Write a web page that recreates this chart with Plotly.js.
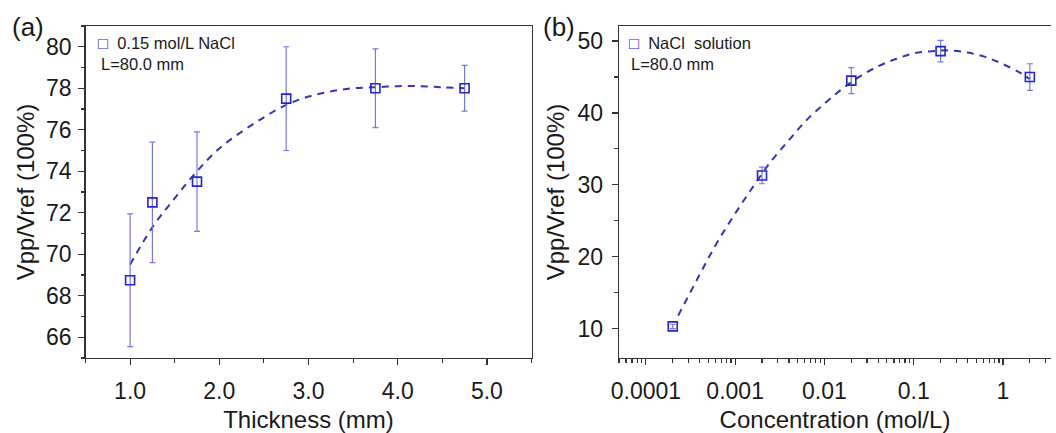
<!DOCTYPE html>
<html>
<head>
<meta charset="utf-8">
<script src="https://cdn.plot.ly/plotly-3.0.1.min.js"></script>
<style>html,body{margin:0;padding:0;background:#fff;overflow:hidden}#chart{width:1056px;height:433px}</style>
</head>
<body>
<div id="chart"></div>
<script>
// ---- Panel (a): Vpp/Vref vs thickness ----
const thickness = [1.0, 1.25, 1.75, 2.75, 3.75, 4.75];
const vppThickness = [68.75, 72.5, 73.5, 77.5, 78.0, 78.0];
const errThickness = [3.2, 2.9, 2.4, 2.5, 1.9, 1.1];
const fitThicknessX = [1.0, 1.25, 1.5, 1.75, 2.0, 2.25, 2.5, 2.75, 3.0, 3.25, 3.5, 3.75, 4.0, 4.25, 4.5, 4.75];
const fitThicknessY = [69.5, 71.3, 72.7, 74.0, 75.1, 75.9, 76.6, 77.2, 77.6, 77.85, 78.0, 78.05, 78.1, 78.1, 78.05, 78.0];

// ---- Panel (b): Vpp/Vref vs concentration ----
const concentration = [0.0002, 0.002, 0.02, 0.2, 2];
const vppConc = [10.3, 31.3, 44.5, 48.6, 45.0];
const errConc = [0.3, 1.15, 1.8, 1.5, 1.85];
const fitConcX = [0.00023, 0.0004, 0.00063, 0.001, 0.0016, 0.0025, 0.004, 0.0063, 0.01, 0.016, 0.025, 0.04, 0.063, 0.1, 0.16, 0.25, 0.4, 0.63, 1, 1.6, 2];
const fitConcY = [11.8, 17.5, 22.0, 26.0, 29.8, 33.2, 36.2, 39.0, 41.3, 43.4, 45.1, 46.5, 47.5, 48.3, 48.6, 48.7, 48.4, 47.8, 46.8, 45.5, 44.7];

const concTickVals = [0.0001, 0.001, 0.01, 0.1, 1];
const concTickText = ['0.0001', '0.001', '0.01', '0.1', '1'];

// minor log ticks (2..9 in each decade)
const concMinor = [];
for (let e = -5; e <= 0; e++) {
  for (let m = 2; m <= 9; m++) concMinor.push(m * Math.pow(10, e));
}

const W = 1056, H = 433, T = 26, B = 75;
const px = x => x / W;
const py = y => (H - B - y) / (H - T - B);

const markerColor = '#2323d8';
const errColor = '#7878e8';
const fitColor = '#3434b4';
const textColor = '#1a1a1a';
const lineColor = '#333333';
const FONT = 'Liberation Sans, Arial, sans-serif';

const traces = [
  {
    x: fitThicknessX, y: fitThicknessY, xaxis: 'x', yaxis: 'y',
    mode: 'lines', line: {color: fitColor, width: 2, dash: '7px,6px', shape: 'spline'},
    showlegend: false, hoverinfo: 'skip'
  },
  {
    x: thickness, y: vppThickness, xaxis: 'x', yaxis: 'y',
    mode: 'markers', type: 'scatter',
    marker: {symbol: 'square-open', size: 9, color: markerColor, line: {width: 1.6, color: markerColor}},
    error_y: {type: 'data', array: errThickness, visible: true, color: errColor, thickness: 1.2, width: 3},
    showlegend: false
  },
  {
    x: fitConcX, y: fitConcY, xaxis: 'x2', yaxis: 'y2',
    mode: 'lines', line: {color: fitColor, width: 2, dash: '7px,6px', shape: 'spline'},
    showlegend: false, hoverinfo: 'skip'
  },
  {
    x: concentration, y: vppConc, xaxis: 'x2', yaxis: 'y2',
    mode: 'markers', type: 'scatter',
    marker: {symbol: 'square-open', size: 9, color: markerColor, line: {width: 1.6, color: markerColor}},
    error_y: {type: 'data', array: errConc, visible: true, color: errColor, thickness: 1.2, width: 3},
    showlegend: false
  }
];

const axBase = {
  showgrid: false, zeroline: false, showline: true, linecolor: lineColor, linewidth: 1.3,
  ticks: 'outside', ticklen: 6, tickwidth: 1.2, tickcolor: lineColor,
  tickfont: {family: FONT, size: 23, color: textColor}
};

const layout = {
  width: W, height: H,
  margin: {l: 0, r: 0, t: T, b: B, pad: 0},
  paper_bgcolor: '#fff', plot_bgcolor: '#fff',
  font: {family: FONT, color: textColor},
  showlegend: false,
  xaxis: Object.assign({}, axBase, {
    domain: [px(85.5), px(531.5)], range: [0.5, 5.5], anchor: 'y',
    tick0: 0, dtick: 1, tickformat: '.1f', mirror: true, ticklabelstandoff: 6,
    minor: {dtick: 0.5, tick0: 0, ticks: 'outside', ticklen: 3.5, tickwidth: 1.2, tickcolor: lineColor},
    title: {text: 'Thickness (mm)', font: {family: FONT, size: 24, color: textColor}, standoff: 9}
  }),
  yaxis: Object.assign({}, axBase, {
    domain: [0, 1], range: [65, 81], anchor: 'x',
    tick0: 0, dtick: 2, mirror: true, ticklabelstandoff: 2,
    minor: {dtick: 1, tick0: 0, ticks: 'outside', ticklen: 3.5, tickwidth: 1.2, tickcolor: lineColor},
    title: {text: 'Vpp/Vref (100%)', font: {family: FONT, size: 24, color: textColor}, standoff: 4}
  }),
  xaxis2: Object.assign({}, axBase, {
    type: 'log', domain: [px(619), px(1051)], range: [Math.log10(0.00005), Math.log10(3.45)], anchor: 'y2',
    tickmode: 'array', tickvals: concTickVals, ticktext: concTickText, mirror: true, ticklabelstandoff: 6,
    minor: {tickmode: 'array', tickvals: concMinor, ticks: 'outside', ticklen: 3.5, tickwidth: 1.2, tickcolor: lineColor},
    title: {text: 'Concentration (mol/L)', font: {family: FONT, size: 24, color: textColor}, standoff: 9}
  }),
  yaxis2: Object.assign({}, axBase, {
    domain: [0, 1], range: [5.9, 52.1], anchor: 'x2',
    tick0: 0, dtick: 10, mirror: false, ticklabelstandoff: 4,
    minor: {dtick: 5, tick0: 0, ticks: 'outside', ticklen: 3.5, tickwidth: 1.2, tickcolor: lineColor},
    title: {text: 'Vpp/Vref (100%)', font: {family: FONT, size: 24, color: textColor}, standoff: 6}
  }),
  annotations: [
    {text: '(a)', xref: 'paper', yref: 'paper', x: px(28), y: py(27), xanchor: 'center', yanchor: 'middle',
     showarrow: false, font: {family: FONT, size: 26, color: textColor}},
    {text: '(b)', xref: 'paper', yref: 'paper', x: px(559), y: py(27), xanchor: 'center', yanchor: 'middle',
     showarrow: false, font: {family: FONT, size: 26, color: textColor}},
    {text: '<span style="color:' + markerColor + '">\u25A1</span>&nbsp; 0.15 mol/L NaCl', xref: 'paper', yref: 'paper',
     x: px(96), y: py(43), xanchor: 'left', yanchor: 'middle', showarrow: false,
     font: {family: FONT, size: 16.5, color: textColor}},
    {text: 'L=80.0 mm', xref: 'paper', yref: 'paper', x: px(99), y: py(64), xanchor: 'left', yanchor: 'middle',
     showarrow: false, font: {family: FONT, size: 16.5, color: textColor}},
    {text: '<span style="color:' + markerColor + '">\u25A1</span>&nbsp; NaCl&nbsp; solution', xref: 'paper', yref: 'paper',
     x: px(627), y: py(43), xanchor: 'left', yanchor: 'middle', showarrow: false,
     font: {family: FONT, size: 16.5, color: textColor}},
    {text: 'L=80.0 mm', xref: 'paper', yref: 'paper', x: px(629), y: py(64), xanchor: 'left', yanchor: 'middle',
     showarrow: false, font: {family: FONT, size: 16.5, color: textColor}}
  ]
};

Plotly.newPlot('chart', traces, layout, {displayModeBar: false, staticPlot: true});
</script>
</body>
</html>
